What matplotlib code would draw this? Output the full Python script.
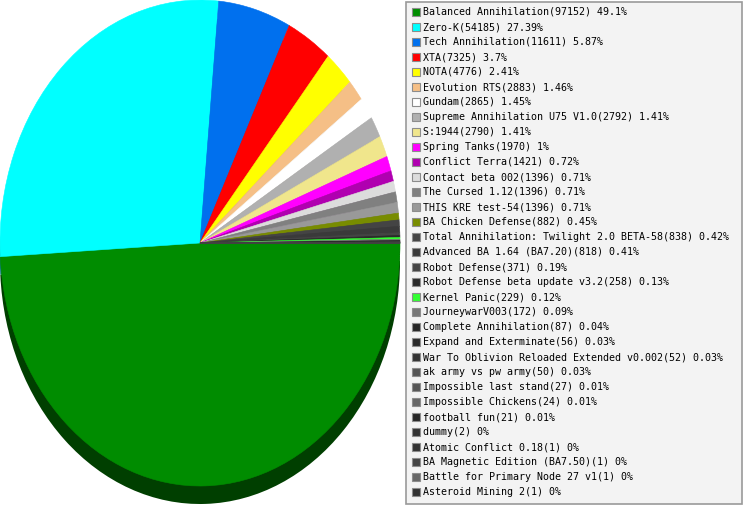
import matplotlib
matplotlib.use("Agg")
from matplotlib import pyplot as plt
from matplotlib.patches import Rectangle
from matplotlib.colors import to_rgb

# game names, player counts and slice colours
names = ["Balanced Annihilation", "Zero-K", "Tech Annihilation", "XTA", "NOTA",
         "Evolution RTS", "Gundam", "Supreme Annihilation U75 V1.0", "S:1944",
         "Spring Tanks", "Conflict Terra", "Contact beta 002", "The Cursed 1.12",
         "THIS KRE test-54", "BA Chicken Defense",
         "Total Annihilation: Twilight 2.0 BETA-58", "Advanced BA 1.64 (BA7.20)",
         "Robot Defense", "Robot Defense beta update v3.2", "Kernel Panic",
         "JourneywarV003", "Complete Annihilation", "Expand and Exterminate",
         "War To Oblivion Reloaded Extended v0.002", "ak army vs pw army",
         "Impossible last stand", "Impossible Chickens", "football fun", "dummy",
         "Atomic Conflict 0.18", "BA Magnetic Edition (BA7.50)",
         "Battle for Primary Node 27 v1", "Asteroid Mining 2"]
counts = [97152, 54185, 11611, 7325, 4776, 2883, 2865, 2792, 2790, 1970, 1421,
          1396, 1396, 1396, 882, 838, 818, 371, 258, 229, 172, 87, 56, 52, 50,
          27, 24, 21, 2, 1, 1, 1, 1]
colors = ["#008c00", "#00ffff", "#0070ee", "#ff0000", "#ffff00", "#f5bf86",
          "#ffffff", "#b0b0b0", "#f0e68c", "#ff00ff", "#b000b0", "#dcdcdc",
          "#808080", "#999999", "#788c00", "#444444", "#3a3a3a", "#444444",
          "#2a2a2a", "#33ff33", "#777777", "#262626", "#2a2a2a", "#333333",
          "#555555", "#555555", "#666666", "#262626", "#333333", "#333333",
          "#444444", "#666666", "#333333"]

W, H = 743, 505
fig = plt.figure(figsize=(W / 100, H / 100), dpi=100)

#pie axes, stretched so the pie is an ellipse
depth = 18 / 243
ax = fig.add_axes([0, 1 / H, 400 / W, (486 + 18) / H])
dark = [tuple(c * 0.45 for c in to_rgb(col)) for col in colors]
ax.pie(counts, colors=dark, startangle=0, counterclock=False,
       center=(0, -depth), radius=1, wedgeprops=dict(linewidth=0))
wedges, _ = ax.pie(counts, colors=colors, startangle=0, counterclock=False,
                   center=(0, 0), radius=1, wedgeprops=dict(linewidth=0.4))
#edge in the slice colour hides the antialias seams
for w in wedges:
    w.set_edgecolor(w.get_facecolor())
ax.set_aspect("auto")
ax.set_xlim(-1, 1)
ax.set_ylim(-1 - depth, 1)
ax.axis("off")

#legend drawn in pixel coordinates
lg = fig.add_axes([0, 0, 1, 1])
lg.set_xlim(0, W)
lg.set_ylim(H, 0)
lg.axis("off")
lg.add_patch(Rectangle((405.5, 1.5), 336, 502, facecolor="#f3f3f3",
                       edgecolor="#999999", linewidth=1.2))
total = sum(counts)
for i, (n, c, col) in enumerate(zip(names, counts, colors)):
    y = 12 + i * 15
    pct = f"{round(c / total * 100, 2):g}"
    lg.add_patch(Rectangle((411.5, y - 4.5), 8, 8, facecolor=col,
                           edgecolor="#8c8c8c", linewidth=0.8))
    lg.text(423, y, f"{n}({c}) {pct}%", fontsize=7.2, va="center", ha="left",
            family="DejaVu Sans Mono", color="black")

fig.savefig("out.png", dpi=100)
